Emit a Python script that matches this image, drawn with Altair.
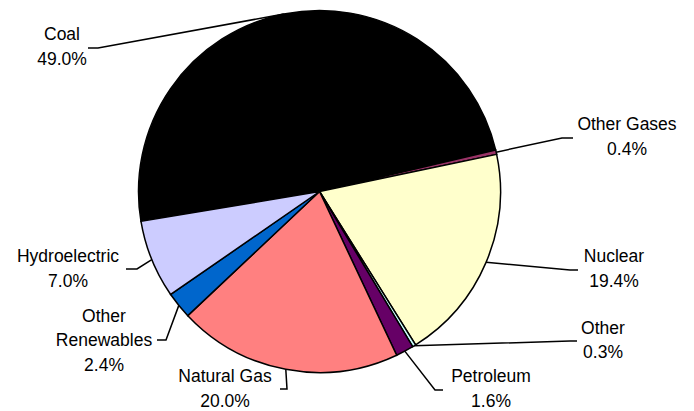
import math
import altair as alt
import pandas as pd

# ---- data ----
categories = ["Coal", "Other Gases", "Nuclear", "Other", "Petroleum",
              "Natural Gas", "Other Renewables", "Hydroelectric"]
shares = [49.0, 0.4, 19.4, 0.3, 1.6, 20.0, 2.4, 7.0]
label_texts = ["Coal", "Other Gases", "Nuclear", "Other", "Petroleum",
               "Natural Gas", "Other\nRenewables", "Hydroelectric"]
colors = ["#000000", "#993366", "#FFFFCC", "#CCFFFF", "#660066",
          "#FF8080", "#0066CC", "#CCCCFF"]

# ---- layout (chart pixel space) ----
W, H = 678, 403
CX, CY, R = 311.5, 183.5, 181
START = math.radians(260.5)
LINE_H = 24.5
# elbow point, line end, label block centre for each category
label_layout = {
    "Coal":             ((90, 40), (80, 40), (54, 39.5)),
    "Other Gases":      ((554, 130), (565, 130), (619, 129.5)),
    "Nuclear":          ((562, 262), (570, 262), (606, 261.5)),
    "Other":            ((562, 333), (569, 333), (595, 333)),
    "Petroleum":        ((427, 382), (435, 382), (483, 381.5)),
    "Natural Gas":      ((279, 381), (272, 381), (217, 381.5)),
    "Other Renewables": ((158, 332), (149, 332), (96, 333)),
    "Hydroelectric":    ((129, 261), (118, 261), (60, 261.5)),
}

df = pd.DataFrame({"cat": categories, "share": shares, "idx": range(len(categories))})

total = sum(shares)
line_rows, text_rows = [], []
cum = 0.0
for cat, val, lab in zip(categories, shares, label_texts):
    mid = START + 2 * math.pi * (cum + val / 2) / total
    cum += val
    sx, sy = CX + R * math.sin(mid), CY - R * math.cos(mid)
    (ex, ey), (tx, ty), (lx, ly) = label_layout[cat]
    for k, (px, py) in enumerate([(sx, sy), (ex, ey), (tx, ty)]):
        line_rows.append({"cat": cat, "pt": k, "px": px, "py": py})
    text = f"{lab}\n{val:.1f}%"
    n = text.count("\n") + 1
    text_rows.append({"cat": cat, "px": lx, "py": ly - (n - 1) * LINE_H / 2,
                      "label": text})

lines_df = pd.DataFrame(line_rows)
text_df = pd.DataFrame(text_rows)

pie = alt.Chart(df).mark_arc(outerRadius=R, stroke="black", strokeWidth=1.5).encode(
    theta=alt.Theta("share:Q", stack=True,
                    scale=alt.Scale(range=[START, START + 2 * math.pi])),
    color=alt.Color("cat:N", scale=alt.Scale(domain=categories, range=colors), legend=None),
    order=alt.Order("idx:Q"),
    x=alt.value(CX),
    y=alt.value(CY),
)

leaders = alt.Chart(lines_df).mark_line(color="black", strokeWidth=1.5).encode(
    x=alt.X("px:Q", scale=None, axis=None),
    y=alt.Y("py:Q", scale=None, axis=None),
    detail="cat:N",
    order="pt:Q",
)

labels = alt.Chart(text_df).mark_text(
    align="center", baseline="middle", lineBreak="\n",
    font="Liberation Sans", fontSize=17.5, lineHeight=LINE_H, color="black",
).encode(
    x=alt.X("px:Q", scale=None, axis=None),
    y=alt.Y("py:Q", scale=None, axis=None),
    text="label:N",
)

chart = alt.layer(pie, leaders, labels).properties(
    width=W, height=H, padding=0,
    autosize=alt.AutoSizeParams(type="none"),
).configure_view(stroke=None)

chart.save("out.html", embed_options={"renderer": "svg", "actions": False})
